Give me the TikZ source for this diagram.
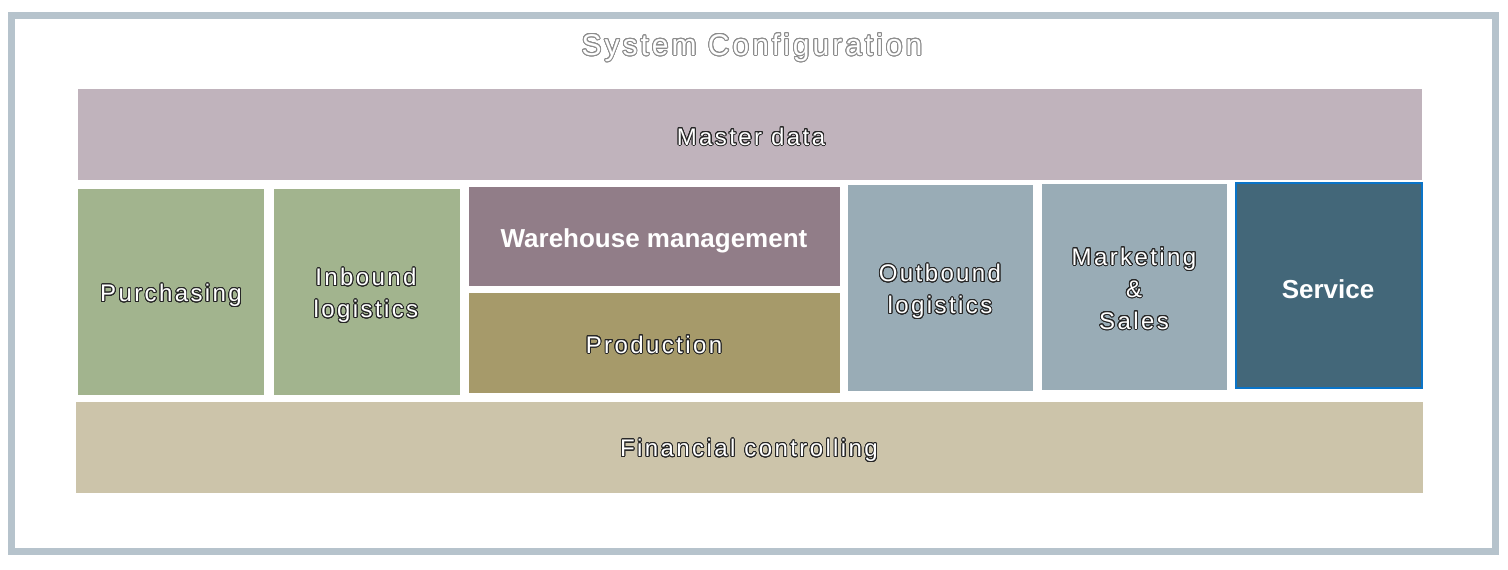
\documentclass[tikz,border=0pt]{standalone}
\usepackage{fontspec}
\setmainfont{Liberation Sans}
\newfontfamily\spacedfont[LetterSpace=10]{Liberation Sans}
\usepackage{contour}
\contourlength{0.9pt}
\contournumber{24}

\definecolor{framegray}{HTML}{B6C3CC}
\definecolor{masterpink}{HTML}{C0B3BC}
\definecolor{sagegreen}{HTML}{A2B48E}
\definecolor{wareplum}{HTML}{917D88}
\definecolor{prodolive}{HTML}{A69A6A}
\definecolor{steelgray}{HTML}{99ACB6}
\definecolor{servfill}{HTML}{436779}
\definecolor{servblue}{HTML}{0A74C8}
\definecolor{fincream}{HTML}{CCC4AA}

\newcommand{\outl}[1]{\contour{black!85}{#1}}

\tikzset{
  olabel/.style={text=white, font=\spacedfont\fontsize{24}{32}\selectfont, align=center},
  blabel/.style={text=white, font=\bfseries\fontsize{26}{32}\selectfont, align=center},
}

\begin{document}
\begin{tikzpicture}[x=1pt,y=-1pt]
\useasboundingbox (0,0) rectangle (1508,570);

%% frame
\draw[line width=7pt, framegray] (11.5,15.5) rectangle (1495.5,551.5);

\node[text=white, font=\spacedfont\fontsize{30}{36}\selectfont] (title) at (752,48) {\contour{gray!90}{System Configuration}};

%% boxes
\fill[masterpink] (78,89) rectangle (1422,180);
\fill[sagegreen] (78,189) rectangle (264,395);
\fill[sagegreen] (274,189) rectangle (460,395);
\fill[wareplum] (469,187) rectangle (840,286);
\fill[prodolive] (469,293) rectangle (840,393);
\fill[steelgray] (848,185) rectangle (1033,391);
\fill[steelgray] (1042,184) rectangle (1227,390);
\draw[line width=2pt, draw=servblue, fill=servfill] (1236,183) rectangle (1422,388);
\fill[fincream] (76,402) rectangle (1423,493);

%% labels
\node[olabel] (master) at (751,137) {\outl{Master data}};
\node[olabel] (purch) at (171,296) {\outl{Purchasing}};
\node[olabel] (inbound) at (366,296) {\outl{Inbound}\\\outl{logistics}};
\node[blabel] (warehouse) at (654,241) {Warehouse management};
\node[olabel] (prod) at (654,345) {\outl{Production}};
\node[olabel] (outbound) at (940,292) {\outl{Outbound}\\\outl{logistics}};
\node[olabel] (marketing) at (1134,289) {\outl{Marketing}\\\outl{\&}\\\outl{Sales}};
\node[blabel] (service) at (1328,289) {Service};
\node[olabel] (finance) at (749,451) {\outl{Financial controlling}};
\end{tikzpicture}
\end{document}
